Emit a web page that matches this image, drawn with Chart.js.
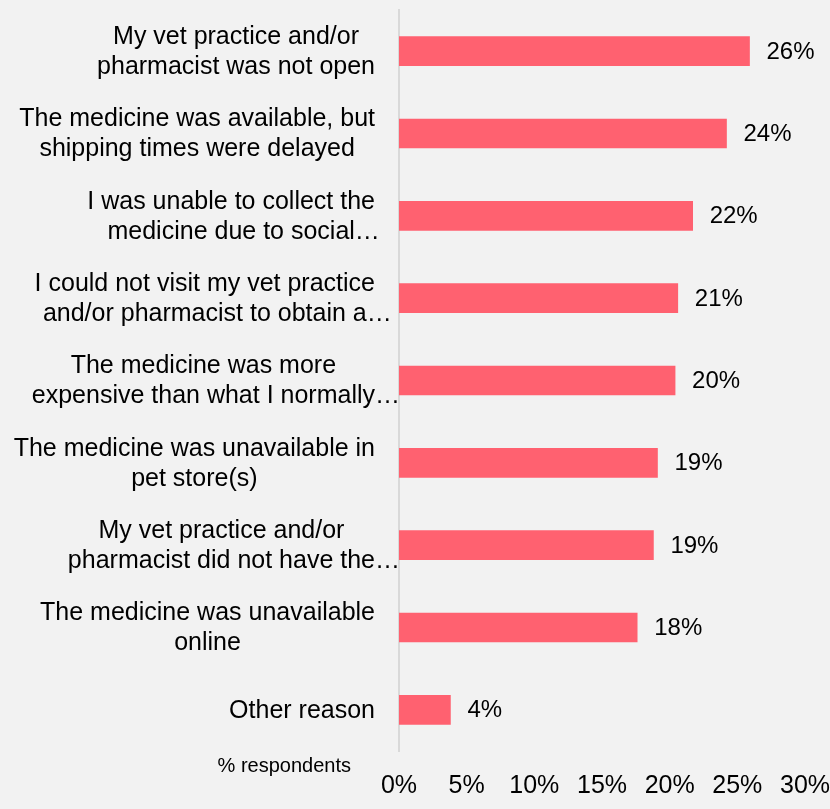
<!DOCTYPE html>
<html>
<head>
<meta charset="utf-8">
<script src="https://cdn.jsdelivr.net/npm/chart.js@4/dist/chart.umd.min.js"></script>
<style>
  html, body { margin: 0; padding: 0; background: #f2f2f2; }
  #wrap { width: 830px; height: 809px; position: relative; }
</style>
</head>
<body>
<div id="wrap"><canvas id="reasonsChart"></canvas></div>
<script>
// Reasons respondents could not get the medicine (share of respondents, %)
const reasonLabels = [
  ['My vet practice and/or', 'pharmacist was not open'],
  ['The medicine was available, but', 'shipping times were delayed'],
  ['I was unable to collect the', 'medicine due to social\u2026'],
  ['I could not visit my vet practice', 'and/or pharmacist to obtain a\u2026'],
  ['The medicine was more', 'expensive than what I normally\u2026'],
  ['The medicine was unavailable in', 'pet store(s)'],
  ['My vet practice and/or', 'pharmacist did not have the\u2026'],
  ['The medicine was unavailable', 'online'],
  ['Other reason']
];
const reasonShares = [25.9, 24.2, 21.7, 20.6, 20.4, 19.1, 18.8, 17.6, 3.8];
const axisTicks = [0, 5, 10, 15, 20, 25, 30];

const FONT = '"Liberation Sans", Arial, sans-serif';
const BAR_COLOR = '#ff6170';

// wrapped category labels: lines centred on each other, block right-aligned,
// a trailing ellipsis is left hanging past the right edge
const categoryLabels = {
  id: 'categoryLabels',
  afterDraw(chart) {
    const ctx = chart.ctx;
    const yScale = chart.scales.y;
    const rightEdge = chart.chartArea.left - 24;
    const lineH = 30;
    ctx.save();
    ctx.font = '25px ' + FONT;
    ctx.fillStyle = '#000';
    ctx.textAlign = 'left';
    ctx.textBaseline = 'middle';
    reasonLabels.forEach((lines, i) => {
      const yc = yScale.getPixelForValue(i) + 1;
      const widths = lines.map(l => ctx.measureText(l.replace(/\u2026$/, '')).width);
      const cx = rightEdge - Math.max(...widths) / 2;
      lines.forEach((line, j) => {
        const y = yc + (j - (lines.length - 1) / 2) * lineH;
        ctx.fillText(line, cx - widths[j] / 2, y);
      });
    });
    ctx.restore();
  }
};

// value labels to the right of each bar
const barValueLabels = {
  id: 'barValueLabels',
  afterDatasetsDraw(chart) {
    const ctx = chart.ctx;
    const meta = chart.getDatasetMeta(0);
    ctx.save();
    ctx.font = '24px ' + FONT;
    ctx.fillStyle = '#000';
    ctx.textAlign = 'left';
    ctx.textBaseline = 'middle';
    meta.data.forEach((bar, i) => {
      ctx.fillText(Math.round(reasonShares[i]) + '%', bar.x + 17, bar.y + 1);
    });
    ctx.restore();
  }
};

// axis caption left of the tick labels
const axisCaption = {
  id: 'axisCaption',
  afterDraw(chart) {
    const ctx = chart.ctx;
    ctx.save();
    ctx.font = '20px ' + FONT;
    ctx.fillStyle = '#000';
    ctx.textAlign = 'right';
    ctx.textBaseline = 'middle';
    ctx.fillText('% respondents', chart.chartArea.left - 48, chart.chartArea.bottom + 15);
    ctx.restore();
  }
};

new Chart(document.getElementById('reasonsChart'), {
  type: 'bar',
  data: {
    labels: reasonLabels,
    datasets: [{
      data: reasonShares,
      backgroundColor: BAR_COLOR,
      barThickness: 29
    }]
  },
  options: {
    indexAxis: 'y',
    responsive: true,
    maintainAspectRatio: false,
    animation: false,
    layout: { padding: { top: 10, right: 25, left: 0, bottom: 0 } },
    plugins: {
      legend: { display: false },
      tooltip: { enabled: false }
    },
    scales: {
      x: {
        min: 0,
        max: 30,
        grid: { display: false },
        border: { display: false },
        afterBuildTicks(scale) {
          scale.ticks = axisTicks.map(v => ({ value: v }));
        },
        afterFit(scale) {
          scale.height = 58;
          scale.paddingLeft = 0;
          scale.paddingRight = 0;
        },
        ticks: {
          color: '#000',
          padding: 12,
          font: { family: FONT, size: 25 },
          callback: v => v + '%'
        }
      },
      y: {
        grid: { display: false },
        border: { display: true, color: '#d9d9d9', width: 2 },
        afterFit(scale) {
          scale.width = 399;
          scale.paddingTop = 0;
          scale.paddingBottom = 0;
        },
        ticks: { display: false }
      }
    }
  },
  plugins: [categoryLabels, barValueLabels, axisCaption]
});
</script>
</body>
</html>
